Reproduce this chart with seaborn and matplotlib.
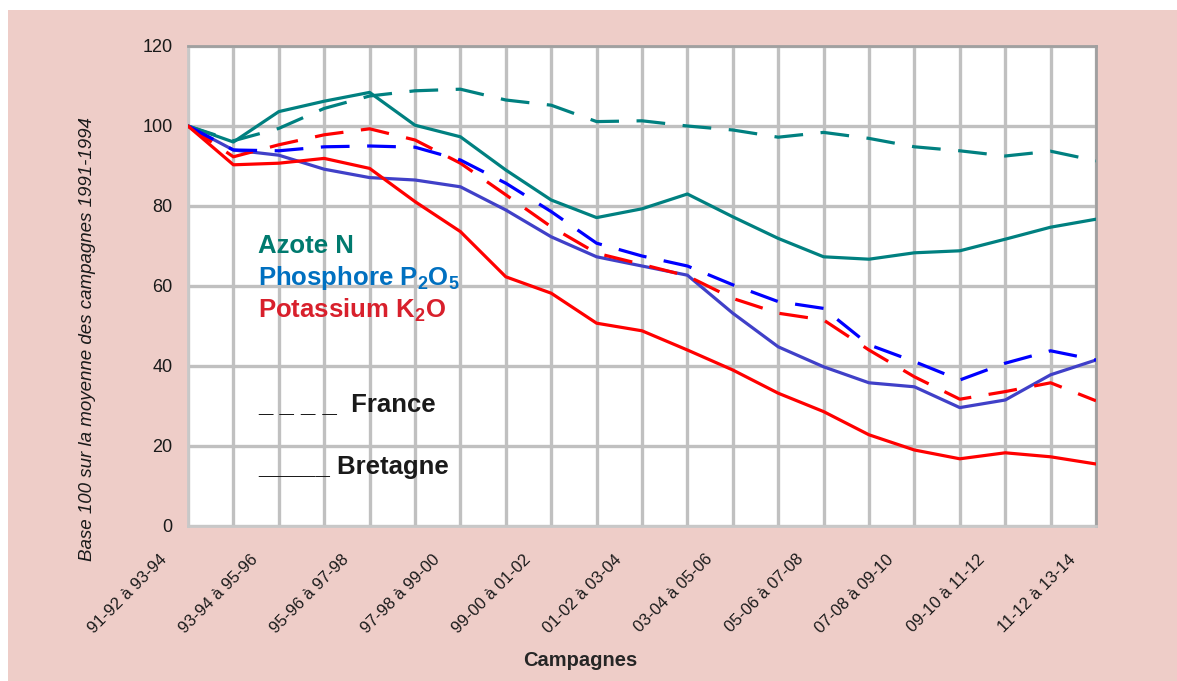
import matplotlib
matplotlib.use("Agg")
import matplotlib.pyplot as plt
import matplotlib.transforms as mtransforms
from matplotlib.patches import Rectangle
import numpy as np
import pandas as pd
import seaborn as sns

# Campagnes (moyennes glissantes sur trois campagnes)
campagnes = [
    "91-92 à 93-94", "92-93 à 94-95", "93-94 à 95-96", "94-95 à 96-97",
    "95-96 à 97-98", "96-97 à 98-99", "97-98 à 99-00", "98-99 à 00-01",
    "99-00 à 01-02", "00-01 à 02-03", "01-02 à 03-04", "02-03 à 04-05",
    "03-04 à 05-06", "04-05 à 06-07", "05-06 à 07-08", "06-07 à 08-09",
    "07-08 à 09-10", "08-09 à 10-11", "09-10 à 11-12", "10-11 à 12-13",
    "11-12 à 13-14",
]

# Indices base 100 = moyenne des campagnes 1991-1994
azote_bretagne = [100, 96, 103.6, 106.2, 108.4, 100.2, 97.3, 89, 81.5, 77.1, 79.3,
                  83, 77.3, 71.9, 67.3, 66.7, 68.3, 68.8, 71.7, 74.7, 76.7]
azote_france = [100, 96.3, 99.4, 104.4, 107.5, 108.8, 109.2, 106.5, 105.2, 101.1, 101.3,
                100, 99, 97.2, 98.4, 96.9, 94.8, 93.8, 92.5, 93.7, 91.3]
phosphore_bretagne = [100, 94, 92.7, 89.2, 87.1, 86.5, 84.8, 79, 72.3, 67.3, 65,
                      62.7, 53.2, 44.8, 39.8, 35.8, 34.8, 29.6, 31.5, 37.8, 41.5]
phosphore_france = [100, 94, 93.8, 94.8, 95, 94.7, 91.5, 85.7, 78.6, 70.7, 67.5,
                    65, 60.3, 56.1, 54.4, 45.3, 41.1, 36.5, 40.7, 43.8, 41.5]
potassium_bretagne = [100, 90.3, 90.7, 91.9, 89.4, 81.1, 73.6, 62.3, 58.2, 50.7, 48.8,
                      44, 39, 33.2, 28.6, 22.8, 19, 16.8, 18.3, 17.3, 15.5]
potassium_france = [100, 92.3, 95.3, 97.8, 99.3, 96.5, 90.7, 82.8, 74.8, 68.2, 65.4,
                    62.5, 56.9, 53.2, 51.5, 44, 37.3, 31.7, 33.6, 35.8, 31.3]

series = [
    ("Azote N", "France", azote_france, "#008080"),
    ("Azote N", "Bretagne", azote_bretagne, "#008080"),
    ("Phosphore P2O5", "Bretagne", phosphore_bretagne, "#4040c8"),
    ("Potassium K2O", "France", potassium_france, "#ff0000"),
    ("Phosphore P2O5", "France", phosphore_france, "#0000ff"),
    ("Potassium K2O", "Bretagne", potassium_bretagne, "#ff0000"),
]

sns.set_theme(style="white")
plt.rcParams["font.family"] = ["Liberation Sans", "DejaVu Sans"]
plt.rcParams["mathtext.fontset"] = "custom"
plt.rcParams["mathtext.rm"] = "Liberation Sans"
plt.rcParams["mathtext.bf"] = "Liberation Sans:bold"

W, H = 1177, 681
fig = plt.figure(figsize=(W / 100, H / 100), dpi=100)
fig.patch.set_facecolor("white")
fig.patches.append(Rectangle((8 / W, 0), 1 - 8 / W, 1 - 10 / H, transform=fig.transFigure,
                             facecolor="#eecdc8", edgecolor="none", zorder=-10))

ax = fig.add_axes([188 / W, 1 - 526 / H, 908 / W, 480 / H])
ax.set_facecolor("white")

x_idx = np.arange(len(campagnes))
for element, zone, vals, color in series:
    df = pd.DataFrame({"x": x_idx, "y": vals})
    ls = (0, (9, 5.5)) if zone == "France" else "-"
    sns.lineplot(data=df, x="x", y="y", ax=ax, color=color, linewidth=2.3,
                 linestyle=ls, zorder=3)

ax.set_xlim(0, len(campagnes) - 1)
ax.set_ylim(0, 120)
ax.set_yticks(np.arange(0, 121, 20))
ax.set_xticks(x_idx, minor=True)
ax.set_xticks(x_idx[::2])
ax.set_xticklabels(campagnes[::2], rotation=45, ha="right", va="center",
                   rotation_mode="anchor")
ax.grid(True, which="both", axis="x", color="#c0c0c0", linewidth=2.4, zorder=1)
ax.grid(True, which="major", axis="y", color="#c0c0c0", linewidth=2.4, zorder=1)
ax.tick_params(axis="both", which="both", length=0, colors="#1a1a1a")
ax.tick_params(axis="y", pad=11, labelsize=13)
ax.tick_params(axis="x", pad=0, labelsize=12)
ax.set_xlabel("")
ax.set_ylabel("")
for side in ["left", "bottom"]:
    ax.spines[side].set_color("#c8c8c8")
    ax.spines[side].set_linewidth(2.0)
for side in ["top", "right"]:
    ax.spines[side].set_color("#a0a0a0")
    ax.spines[side].set_linewidth(2.0)
ax.set_axisbelow(True)

offset = mtransforms.ScaledTranslation(-23 / 100, -31 / 100, fig.dpi_scale_trans)
for lab in ax.get_xticklabels():
    lab.set_transform(lab.get_transform() + offset)

fig.text(88 / W, 1 - 339 / H, "Base 100 sur la moyenne des campagnes 1991-1994",
         rotation=90, ha="center", va="center", fontsize=13.5, style="italic",
         color="#1a1a1a")
fig.text(580 / W, 1 - 660 / H, "Campagnes", ha="center", va="center",
         fontsize=14.5, fontweight="bold", color="#262626")

legend_items = [
    ("Azote N", "#007a6e", 246),
    (r"Phosphore P$_{\mathbf{2}}$O$_{\mathbf{5}}$", "#0070c0", 278),
    (r"Potassium K$_{\mathbf{2}}$O", "#d8202c", 310),
    ("_ _ _ _  France", "#1a1a1a", 404),
    ("_____ Bretagne", "#1a1a1a", 467),
]
for txt, col, ypx in legend_items:
    fig.text(258 / W, 1 - ypx / H, txt, ha="left", va="center", fontsize=18.5,
             fontweight="bold", color=col)

fig.savefig("out.png", dpi=100, facecolor=fig.get_facecolor())
